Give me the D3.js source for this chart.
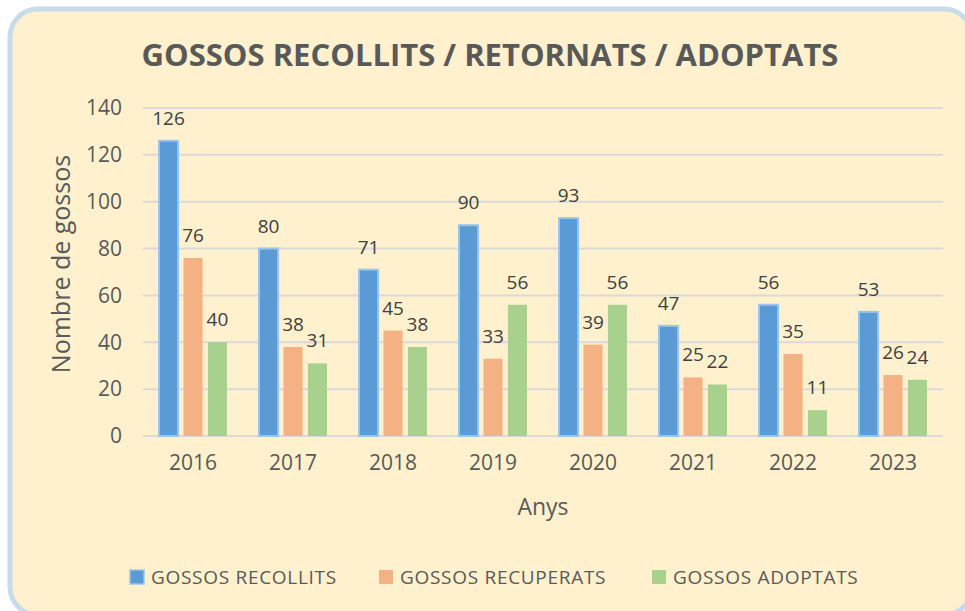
<!DOCTYPE html>
<html>
<head>
<meta charset="utf-8">
<script src="https://cdn.jsdelivr.net/npm/d3@7"></script>
<style>
    body { margin: 0; background: #ffffff; }
    svg { display: block; font-family: "Open Sans", Lato, sans-serif; }
</style>
</head>
<body>
<div id="chart"></div>
<script>
var years = ['2016', '2017', '2018', '2019', '2020', '2021', '2022', '2023'];
var recollits = [126, 80, 71, 90, 93, 47, 56, 53];
var recuperats = [76, 38, 45, 33, 39, 25, 35, 26];
var adoptats = [40, 31, 38, 56, 56, 22, 11, 24];
var seriesNames = ['GOSSOS RECOLLITS', 'GOSSOS RECUPERATS', 'GOSSOS ADOPTATS'];
var yTicks = [0, 20, 40, 60, 80, 100, 120, 140];

var colors = ['#5b9bd5', '#f4b183', '#a9d18e'];
var textColor = '#595959';
var font = '"Open Sans", Lato, sans-serif';

var width = 965, height = 611;
var plot = {left: 143, right: 943, top: 108, bottom: 436};

var svg = d3.select('#chart').append('svg')
    .attr('width', width).attr('height', height);

// chart frame
svg.append('rect')
    .attr('x', 10).attr('y', 9)
    .attr('width', 962).attr('height', 606)
    .attr('rx', 28).attr('ry', 28)
    .attr('fill', '#fff1cd')
    .attr('stroke', '#c8dbea')
    .attr('stroke-width', 5);

svg.append('text')
    .attr('x', 490).attr('y', 66)
    .attr('text-anchor', 'middle')
    .attr('font-size', 31).attr('font-weight', 'bold')
    .attr('fill', textColor)
    .text('GOSSOS RECOLLITS / RETORNATS / ADOPTATS');

var x = d3.scaleBand().domain(years).range([plot.left, plot.right]);
var xInner = d3.scaleBand().domain(d3.range(3)).range([-34, 34]).paddingInner(0.22);
var y = d3.scaleLinear().domain([0, 140]).range([plot.bottom, plot.top]);

// grid
svg.append('g').selectAll('line').data(yTicks).enter().append('line')
    .attr('x1', plot.left).attr('x2', plot.right)
    .attr('y1', d => y(d)).attr('y2', d => y(d))
    .attr('stroke', '#d9d9d9').attr('stroke-width', 2);

// y axis labels
var yAxis = svg.append('g')
    .attr('transform', 'translate(' + (plot.left - 21) + ',0)')
    .call(d3.axisLeft(y).tickValues(yTicks).tickSize(0).tickPadding(0));
yAxis.select('.domain').remove();
yAxis.selectAll('text')
    .attr('font-family', font)
    .attr('font-size', 21).attr('fill', textColor);

// x axis labels
var xAxis = svg.append('g')
    .attr('transform', 'translate(0,' + (plot.bottom + 18) + ')')
    .call(d3.axisBottom(x).tickSize(0).tickPadding(0));
xAxis.select('.domain').remove();
xAxis.selectAll('text')
    .attr('font-family', font)
    .attr('font-size', 21).attr('fill', textColor)
    .attr('dy', '0.75em');

svg.append('text')
    .attr('x', 543).attr('y', 515)
    .attr('text-anchor', 'middle')
    .attr('font-size', 23).attr('fill', textColor)
    .text('Anys');

svg.append('text')
    .attr('transform', 'translate(70,264) rotate(-90)')
    .attr('text-anchor', 'middle')
    .attr('font-size', 25).attr('fill', textColor)
    .text('Nombre de gossos');

// bars
var allSeries = [recollits, recuperats, adoptats];
var barData = [];
allSeries.forEach(function (vals, s) {
    vals.forEach(function (v, i) {
        barData.push({year: years[i], s: s, value: v});
    });
});

var bw = xInner.bandwidth();
var bars = svg.append('g').selectAll('g.bar').data(barData).enter().append('g').attr('class', 'bar');

bars.append('rect')
    .attr('x', d => x(d.year) + x.bandwidth() / 2 + xInner(d.s))
    .attr('y', d => y(d.value))
    .attr('width', bw)
    .attr('height', d => y(0) - y(d.value))
    .attr('fill', d => colors[d.s])
    .attr('stroke', d => d.s === 0 ? '#9dc3e6' : 'none')
    .attr('stroke-width', 2);

bars.append('text')
    .attr('x', d => x(d.year) + x.bandwidth() / 2 + xInner(d.s) + bw / 2)
    .attr('y', d => y(d.value) - 16)
    .attr('text-anchor', 'middle')
    .attr('font-size', 19).attr('fill', '#404040')
    .text(d => d.value);

// legend
var legendX = [130, 379, 652];
var legend = svg.append('g').selectAll('g').data(seriesNames).enter().append('g')
    .attr('transform', (d, i) => 'translate(' + legendX[i] + ',570)');
legend.append('rect')
    .attr('width', 14).attr('height', 14)
    .attr('fill', (d, i) => colors[i])
    .attr('stroke', (d, i) => i === 0 ? '#9dc3e6' : 'none')
    .attr('stroke-width', 1.5);
legend.append('text')
    .attr('x', 21).attr('y', 14)
    .attr('font-size', 19).attr('letter-spacing', 0.7).attr('fill', textColor)
    .text(d => d);
</script>
</body>
</html>
